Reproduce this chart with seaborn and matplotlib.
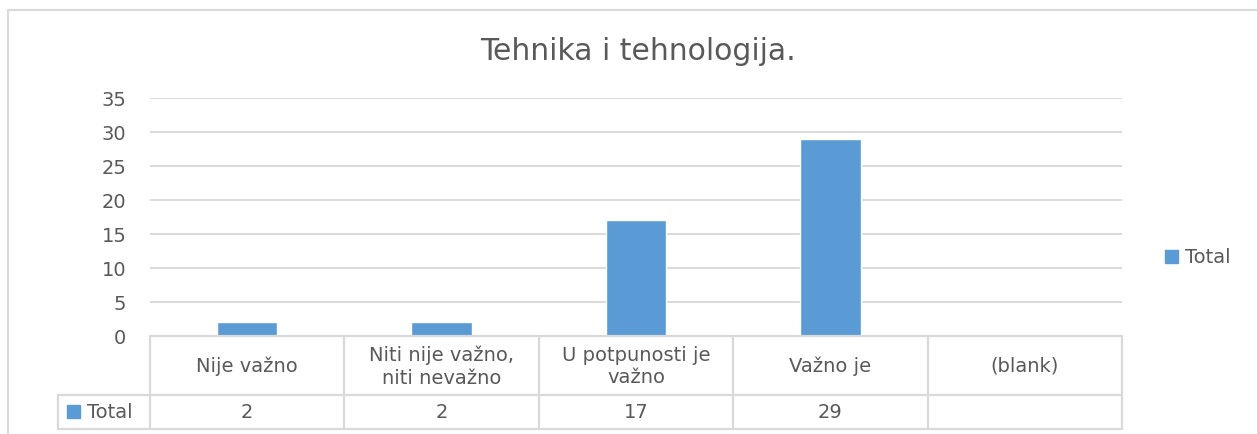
import matplotlib
matplotlib.use("Agg")
import matplotlib.pyplot as plt
from matplotlib.lines import Line2D
from matplotlib.patches import Rectangle
import numpy as np
import pandas as pd
import seaborn as sns

# Survey answers for "Tehnika i tehnologija."
categories = ["Nije važno", "Niti nije važno,\nniti nevažno", "U potpunosti je\nvažno", "Važno je", "(blank)"]
totals = [2, 2, 17, 29, np.nan]
value_labels = ["2", "2", "17", "29", ""]
series_name = "Total"
y_ticks = [0, 5, 10, 15, 20, 25, 30, 35]

BAR = "#5b9bd5"
TXT = "#595959"
GRID = "#d9d9d9"
FONT = ["DejaVu Sans"]
FS = 14

sns.set_theme(style="white")
plt.rcParams["font.family"] = FONT

W, H = 1257, 435
fig = plt.figure(figsize=(W / 100, H / 100), dpi=100)

def fx(px):
    return px / W

def fy(py):
    return 1 - py / H

# plot area in pixel coordinates
x0, x1 = 150, 1122
y_top, y_bot = 99, 337
ax = fig.add_axes([fx(x0), fy(y_bot), fx(x1 - x0), (y_bot - y_top) / H])

df = pd.DataFrame({"category": categories, "value": totals})
sns.barplot(data=df, x="category", y="value", color=BAR, width=0.31,
            saturation=1, ax=ax, order=categories)
ax.set_xlim(-0.5, len(categories) - 0.5)
ax.set_ylim(0, 35)
ax.set_yticks(y_ticks)
ax.set_yticklabels([str(t) for t in y_ticks], color=TXT, fontsize=FS)
ax.tick_params(axis="y", length=0, pad=17)
ax.set_xticks([])
ax.set_xlabel("")
ax.set_ylabel("")
ax.yaxis.grid(True, color=GRID, linewidth=1.4)
ax.set_axisbelow(True)
for s in ax.spines.values():
    s.set_visible(False)

# title
fig.text(fx(638), fy(51), "Tehnika i tehnologija.", ha="center", va="center",
         fontsize=21.5, color=TXT)

# outer chart frame (top and left edges)
frame = dict(color="#d9d9d9", linewidth=1.5, transform=fig.transFigure)
fig.add_artist(Line2D([fx(8), fx(1257)], [fy(11), fy(11)], **frame))
fig.add_artist(Line2D([fx(8), fx(8)], [fy(11), fy(435)], **frame))

# data table under the axis
row1, row2, row3 = 337, 396, 430
lbl_left = 58
cell = dict(color="#d9d9d9", linewidth=1.6, transform=fig.transFigure)
col_w = (x1 - x0) / len(categories)
fig.add_artist(Line2D([fx(x0), fx(x1)], [fy(row1), fy(row1)], **cell))
fig.add_artist(Line2D([fx(lbl_left), fx(x1)], [fy(row2), fy(row2)], **cell))
fig.add_artist(Line2D([fx(lbl_left), fx(x1)], [fy(row3), fy(row3)], **cell))
fig.add_artist(Line2D([fx(lbl_left), fx(lbl_left)], [fy(row2), fy(row3)], **cell))
for i in range(len(categories) + 1):
    xx = x0 + i * col_w
    fig.add_artist(Line2D([fx(xx), fx(xx)], [fy(row1), fy(row3)], **cell))

for i, (c, v) in enumerate(zip(categories, value_labels)):
    cx = x0 + (i + 0.5) * col_w
    fig.text(fx(cx), fy((row1 + row2) / 2), c, ha="center", va="center",
             fontsize=FS, color=TXT, linespacing=1.25)
    fig.text(fx(cx), fy((row2 + row3) / 2), v, ha="center", va="center",
             fontsize=FS, color=TXT)

# series key in the table's first column
fig.add_artist(Rectangle((fx(67), fy(419)), fx(13), 13 / H, color=BAR,
                         transform=fig.transFigure))
fig.text(fx(87), fy(413), series_name, ha="left", va="center", fontsize=FS, color=TXT)

# legend
fig.add_artist(Rectangle((fx(1165), fy(264)), fx(13), 13 / H, color=BAR,
                         transform=fig.transFigure))
fig.text(fx(1185), fy(258), series_name, ha="left", va="center", fontsize=FS, color=TXT)

fig.savefig("out.png", dpi=100, facecolor="white")
